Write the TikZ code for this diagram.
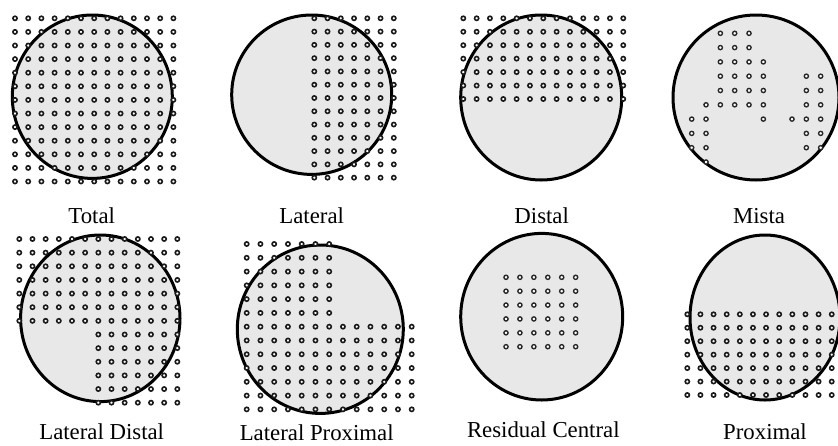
\documentclass[tikz,border=0pt]{standalone}
\usepackage{fontspec}
\setmainfont{Liberation Serif}
\definecolor{lesiongray}{RGB}{232,232,232}
\begin{document}
\begin{tikzpicture}[x=1pt,y=-1pt,
  rim/.style={draw=black,line width=3pt,fill=lesiongray},
  pit/.style={draw=black!90,line width=1.6pt,fill=white},
  smallpit/.style={draw=black!85,line width=1.35pt,fill=white},
  caption/.style={font=\fontsize{22.8}{26}\selectfont,anchor=base,inner sep=0pt}]
\useasboundingbox (0,0) rectangle (838,445);
\clip (0,0) rectangle (838,445);

% ---------- Total ----------
\draw[rim] (92.3,96.7) ellipse [x radius=80pt, y radius=81.7pt];
\foreach \i in {0,...,12}
  \foreach \j in {0,...,12}
    \draw[pit] ({15+13.2*\i},{18.3+13.6*\j}) circle[radius=2.1pt];
\node[caption] (total) at (91.7,223) {Total};

% ---------- Lateral ----------
\draw[rim] (311.7,94.7) ellipse [x radius=80pt, y radius=79.7pt];
\foreach \i in {0,...,6}
  \foreach \j in {0,...,12}
    \draw[pit] ({314.3+13.25*\i},{18.3+13.28*\j}) circle[radius=2.1pt];
\node[caption] (lateral) at (311.7,223) {Lateral};

% ---------- Distal ----------
\draw[rim] (541.2,97.5) ellipse [x radius=80.5pt, y radius=82.5pt];
\foreach \i in {0,...,12}
  \foreach \j in {0,...,6}
    \draw[pit] ({463.3+13.33*\i},{18.3+13.45*\j}) circle[radius=2.1pt];
\node[caption] (distal) at (541.7,223) {Distal};

% ---------- Mista ----------
\draw[rim] (756,97.5) ellipse [x radius=83pt, y radius=82.5pt];
\foreach \c/\r in {2/0,3/0,4/0,
                   2/1,3/1,4/1,
                   2/2,3/2,4/2,5/2,
                   2/3,3/3,4/3,5/3,8/3,9/3,
                   2/4,3/4,4/4,5/4,8/4,9/4,
                   1/5,2/5,3/5,4/5,5/5,8/5,9/5,
                   0/6,1/6,5/6,7/6,8/6,9/6,
                   0/7,1/7,8/7,9/7,
                   0/8,1/8,8/8,9/8,
                   1/9}
  \draw[smallpit] ({691.7+14.33*\c},{33.3+14.3*\r}) circle[radius=2.1pt];
\node[caption] (mista) at (759,223) {Mista};

% ---------- Lateral Distal ----------
\draw[rim] (100.3,318.3) ellipse [x radius=79.7pt, y radius=83.3pt];
\foreach \i in {0,...,12}
  \foreach \j in {0,...,6}
    \draw[pit] ({19.3+13.17*\i},{239+13.64*\j}) circle[radius=2.1pt];
\foreach \i in {6,...,12}
  \foreach \j in {7,...,12}
    \draw[pit] ({19.3+13.17*\i},{239+13.64*\j}) circle[radius=2.1pt];
\node[caption] (latdistal) at (101.7,439) {Lateral Distal};

% ---------- Lateral Proximal ----------
\draw[rim] (320.3,329.2) ellipse [x radius=83pt, y radius=84.2pt];
\foreach \i in {0,...,6}
  \foreach \j in {0,...,5}
    \draw[pit] ({246.7+13.75*\i},{244+13.78*\j}) circle[radius=2.1pt];
\foreach \i in {0,...,12}
  \foreach \j in {6,...,12}
    \draw[pit] ({246.7+13.75*\i},{244+13.78*\j}) circle[radius=2.1pt];
\node[caption] (latproximal) at (316.7,440) {Lateral Proximal};

% ---------- Residual Central ----------
\draw[rim] (541.7,316.7) ellipse [x radius=81pt, y radius=83.3pt];
\foreach \i in {0,...,5}
  \foreach \j in {0,...,5}
    \draw[smallpit] ({506+13.93*\i},{277.3+13.88*\j}) circle[radius=2.1pt];
\node[caption] (residual) at (543.3,437) {Residual Central};

% ---------- Proximal ----------
\draw[rim] (765,317.5) ellipse [x radius=75pt, y radius=82.5pt];
\foreach \i in {0,...,11}
  \foreach \j in {0,...,6}
    \draw[pit] ({687.3+13.13*\i},{314.3+13.45*\j}) circle[radius=2.1pt];
\node[caption] (proximal) at (765,439) {Proximal};

\end{tikzpicture}
\end{document}
